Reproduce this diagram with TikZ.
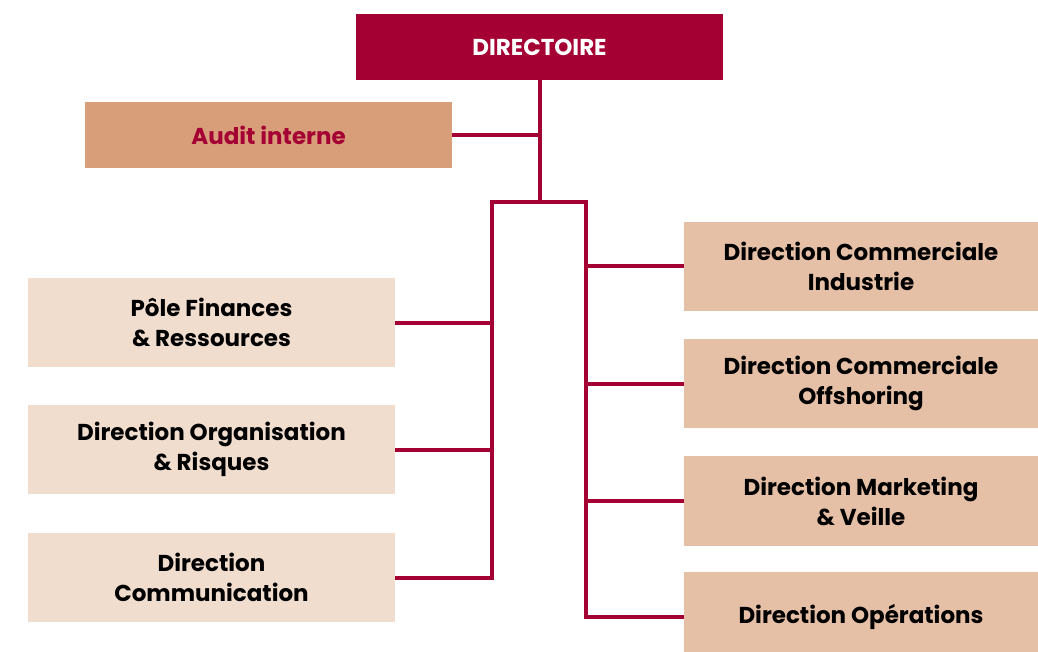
\documentclass[tikz,border=0pt]{standalone}
\usepackage{fontspec}
\setmainfont{Poppins}
\begin{document}
\begin{tikzpicture}[x=1pt,y=-1pt,
  every node/.style={inner sep=0pt,outer sep=0pt,font=\fontsize{23}{30}\selectfont\bfseries,align=center},
  box/.style={rectangle,anchor=north west},
  conn/.style={draw=crimson,line width=4pt}]
\definecolor{crimson}{HTML}{A50034}
\definecolor{audit}{HTML}{D89E79}
\definecolor{rightc}{HTML}{E5C0A6}
\definecolor{leftc}{HTML}{F1DDCE}
\useasboundingbox (0,0) rectangle (1038,652);
% boxes
\node[box,fill=crimson,text=white,minimum width=367pt,minimum height=66pt] (dir) at (356,14) {DIRECTOIRE};
\node[box,fill=audit,text=crimson,minimum width=367pt,minimum height=66pt] (audit) at (85,102) {Audit interne};
\node[box,fill=leftc,minimum width=367pt,minimum height=89pt] (pole) at (28,278) {Pôle Finances\\\& Ressources};
\node[box,fill=leftc,minimum width=367pt,minimum height=89pt] (org) at (28,405) {Direction Organisation\\\& Risques};
\node[box,fill=leftc,minimum width=367pt,minimum height=89pt] (com) at (28,533) {Direction\\Communication};
\node[box,fill=rightc,minimum width=354pt,minimum height=89pt] (ind) at (684,222) {Direction Commerciale\\Industrie};
\node[box,fill=rightc,minimum width=354pt,minimum height=89pt] (off) at (684,339) {Direction Commerciale\\Offshoring};
\node[box,fill=rightc,minimum width=354pt,minimum height=90pt] (mkt) at (684,456) {Direction Marketing\\\& Veille};
\node[box,fill=rightc,minimum width=354pt,minimum height=90pt] (ops) at (684,572) {Direction Opérations};
% junction coordinates
\coordinate (t) at (540,202);
\coordinate (la) at (492,202);
\coordinate (ra) at (586,202);
\coordinate (opsc) at (684,617);
% connectors
\draw[conn] (dir.south -| t) -- (t);
\draw[conn] (audit.east) -- (audit.east -| t);
\draw[conn] (com.east) -- (com.east -| la) -- (la) -- (ra) -- (ra |- opsc) -- (opsc);
\draw[conn] (pole.east) -- (pole.east -| la);
\draw[conn] (org.east) -- (org.east -| la);
\draw[conn] (ind.west) -- (ind.west -| ra);
\draw[conn] (off.west) -- (off.west -| ra);
\draw[conn] (mkt.west) -- (mkt.west -| ra);
\end{tikzpicture}
\end{document}
